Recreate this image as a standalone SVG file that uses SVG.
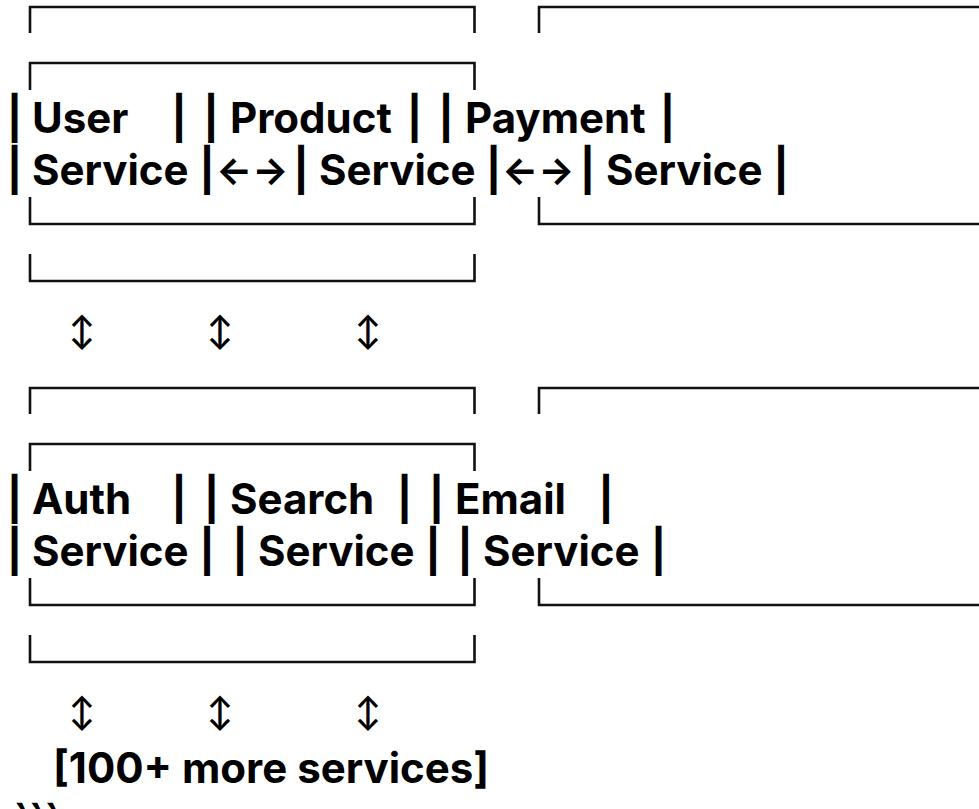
<svg xmlns="http://www.w3.org/2000/svg" width="979" height="809" viewBox="0 0 979 809">
<style>
.t{font-family:Inter,"Liberation Sans",sans-serif;font-weight:700;font-size:42px;fill:#000}
.a{font-family:Inter,"Liberation Sans",sans-serif;font-weight:700;font-size:38px;fill:#000}
.b{font-family:Inter,"Liberation Sans",sans-serif;font-weight:700;font-size:42px;fill:#000;text-anchor:middle}
.v{font-family:Inter,"DejaVu Sans",sans-serif;font-weight:600;font-size:31px;fill:#000;text-anchor:middle}
.ln{fill:none;stroke:#111;stroke-width:2.6}
</style>
<rect width="979" height="809" fill="#fff"/>
<g id="top-row">
  <path class="ln" d="M30,33 V7 H474.5 V33"/>
  <path class="ln" d="M539,33 V7 H979"/>
  <path class="ln" d="M30,90 V63 H474.5 V90"/>
  <text class="t" x="32" y="133">User</text>
  <text class="t" x="230" y="133">Product</text>
  <text class="t" x="465" y="133">Payment</text>
  <text class="b" x="14.5" y="133">|</text>
  <text class="b" x="179" y="133">|</text>
  <text class="b" x="211" y="133">|</text>
  <text class="b" x="414.5" y="133">|</text>
  <text class="b" x="446" y="133">|</text>
  <text class="b" x="667.5" y="133">|</text>
  <text class="t" x="32" y="185">Service</text>
  <text class="t" x="319" y="185">Service</text>
  <text class="t" x="606" y="185">Service</text>
  <text class="b" x="14.5" y="185">|</text>
  <text class="b" x="207" y="185">|</text>
  <text class="b" x="301" y="185">|</text>
  <text class="b" x="493.5" y="185">|</text>
  <text class="b" x="587.5" y="185">|</text>
  <text class="b" x="781" y="185">|</text>
  <path class="ln" d="M30,197 V224 H474.5 V197"/>
  <path class="ln" d="M539,197 V224 H979"/>
  <path class="ln" d="M30,254 V281 H474.5 V254"/>
</g>
<g id="connectors">
  <text class="a" x="216" y="184">←→</text>
  <text class="a" x="502" y="184">←→</text>
  <text class="v" x="82" y="342">↕</text>
  <text class="v" x="220" y="342">↕</text>
  <text class="v" x="368" y="342">↕</text>
  <text class="v" x="82" y="723">↕</text>
  <text class="v" x="220" y="723">↕</text>
  <text class="v" x="368" y="723">↕</text>
</g>
<g id="bottom-row">
  <path class="ln" d="M30,414 V388 H474.5 V414"/>
  <path class="ln" d="M539,414 V388 H979"/>
  <path class="ln" d="M30,471 V444 H474.5 V471"/>
  <text class="t" x="32" y="514">Auth</text>
  <text class="t" x="230" y="514">Search</text>
  <text class="t" x="455" y="514">Email</text>
  <text class="b" x="14.5" y="514">|</text>
  <text class="b" x="179" y="514">|</text>
  <text class="b" x="211.5" y="514">|</text>
  <text class="b" x="404.5" y="514">|</text>
  <text class="b" x="436.5" y="514">|</text>
  <text class="b" x="606" y="514">|</text>
  <text class="t" x="32" y="566">Service</text>
  <text class="t" x="258" y="566">Service</text>
  <text class="t" x="483" y="566">Service</text>
  <text class="b" x="14.5" y="566">|</text>
  <text class="b" x="207" y="566">|</text>
  <text class="b" x="240" y="566">|</text>
  <text class="b" x="433" y="566">|</text>
  <text class="b" x="465" y="566">|</text>
  <text class="b" x="658.5" y="566">|</text>
  <path class="ln" d="M30,578 V605 H474.5 V578"/>
  <path class="ln" d="M539,578 V605 H979"/>
  <path class="ln" d="M30,635 V662 H474.5 V635"/>
</g>
<g id="more-services">
  <text class="t" x="53" y="783">[100+ more services]</text>
  <text class="t" x="13" y="835">```</text>
</g>
</svg>
